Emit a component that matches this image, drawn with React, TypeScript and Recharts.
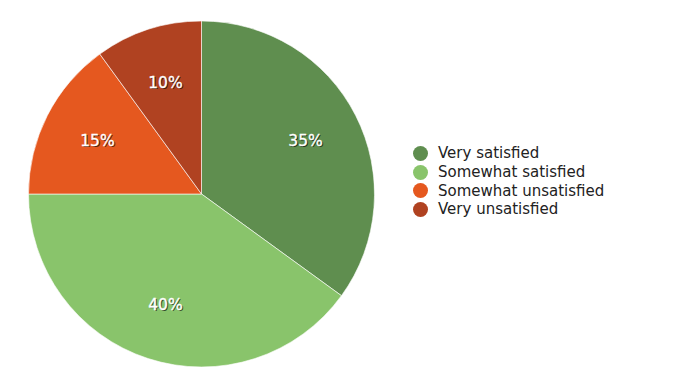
import React from "react";
import { PieChart, Pie, Cell, Legend } from "recharts";

const categories = ["Very satisfied", "Somewhat satisfied", "Somewhat unsatisfied", "Very unsatisfied"];
const values = [35, 40, 15, 10];
const colors = ["#5f8e4f", "#89c46b", "#e5581f", "#b04221"];

const data = categories.map((name, i) => ({ name, value: values[i] }));

const RAD = Math.PI / 180;
const FONT = "Verdana, 'DejaVu Sans', sans-serif";

const renderLabel = (props: any) => {
  const { cx, cy, midAngle, outerRadius, percent } = props;
  const r = outerRadius * 0.675;
  const x = cx + r * Math.cos(-midAngle * RAD);
  const y = cy + r * Math.sin(-midAngle * RAD);
  const txt = `${Math.round(percent * 100)}%`;
  return (
    <g>
      <text x={x + 1.3} y={y + 1.3} textAnchor="middle" dominantBaseline="central" fill="rgba(0,0,0,0.6)" fontSize={15.5} fontFamily={FONT}>
        {txt}
      </text>
      <text x={x} y={y} textAnchor="middle" dominantBaseline="central" fill="#ffffff" stroke="#ffffff" strokeWidth={0.3} fontSize={15.5} fontFamily={FONT}>
        {txt}
      </text>
    </g>
  );
};

const renderLegend = () => (
  <div style={{ fontFamily: FONT, fontSize: 15, color: "#222" }}>
    {categories.map((c, i) => (
      <div key={c} style={{ display: "flex", alignItems: "center", height: 18.7 }}>
        <svg width={15} height={15} style={{ marginRight: 10 }}>
          <circle cx={7.5} cy={7.5} r={7.5} fill={colors[i]} />
        </svg>
        <span>{c}</span>
      </div>
    ))}
  </div>
);

export default function App() {
  return (
    <PieChart width={675} height={384} margin={{ top: 0, right: 0, bottom: 0, left: 0 }}>
      <Pie
        data={data}
        dataKey="value"
        nameKey="name"
        cx={193.5}
        cy={186}
        outerRadius={173}
        startAngle={90}
        endAngle={-270}
        stroke="rgba(255,255,255,0.6)"
        strokeWidth={1}
        label={renderLabel}
        labelLine={false}
        isAnimationActive={false}
      >
        {data.map((d, i) => (
          <Cell key={d.name} fill={colors[i]} />
        ))}
      </Pie>
      <Legend
        content={renderLegend}
        wrapperStyle={{ position: "absolute", left: 405, top: 136, width: 240 }}
      />
    </PieChart>
  );
}
